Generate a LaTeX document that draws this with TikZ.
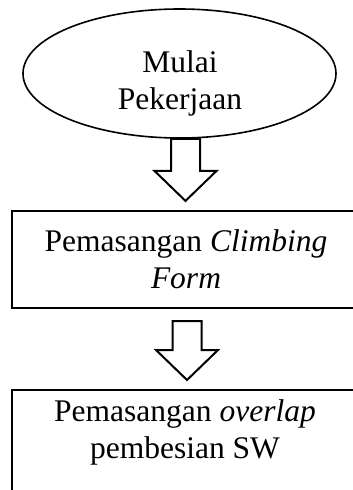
\documentclass[tikz,border=0pt]{standalone}
\usepackage{fontspec}
\setmainfont{Liberation Serif}
\usetikzlibrary{shapes.geometric,calc}

% hollow block arrow: #1 = top centre of the shaft, #2 = tip
\newcommand\hollowarrow[2]{%
  \draw[flowarrow] let \p1=(#1), \p2=(#2) in
    (\x1-14.5pt,\y1) -- (\x1-14.5pt,\y2+30pt) -- (\x1-31pt,\y2+30pt)
    -- (\x2,\y2) -- (\x1+31pt,\y2+30pt) -- (\x1+14.5pt,\y2+30pt)
    -- (\x1+14.5pt,\y1) -- cycle;}

\begin{document}
\begin{tikzpicture}[x=1pt,y=-1pt,
  label/.style={font=\fontsize{31.5}{37}\selectfont, align=center, inner sep=0},
  startnode/.style={ellipse, draw, line width=1.6pt, minimum width=313,
    minimum height=129, inner sep=0},
  procbox/.style={rectangle, draw, line width=2.2pt, inner sep=0,
    minimum width=348},
  flowarrow/.style={draw, line width=2pt, line join=miter, fill=white}]
\useasboundingbox (0,0) rectangle (353,490);
\clip (0,0) rectangle (353,490);

% start terminal
\node[startnode] (start) at (179.5,73.5) {};
\node[label] (starttext) at (180,83.5) {Mulai\\Pekerjaan};

% process steps
\node[procbox, label, draw, line width=2.2pt, minimum height=97] (box1) at (186,259.5)
  {Pemasangan \textit{Climbing}\\\textit{Form}};
\node[procbox, minimum height=130, anchor=north] (box2) at (186,389) {};
\node[label] (box2text) at (185,432.5) {Pemasangan \textit{overlap}\\pembesian SW};

% flow arrows
\coordinate (a1top) at ($(start.south)+(6,0)$);
\coordinate (a1tip) at ($(box1.north)+(-0.5,-9)$);
\coordinate (a2top) at ($(box1.south)+(1,12)$);
\coordinate (a2tip) at ($(box2.north)+(1,-9)$);
\hollowarrow{a1top}{a1tip}
\hollowarrow{a2top}{a2tip}
\end{tikzpicture}
\end{document}
